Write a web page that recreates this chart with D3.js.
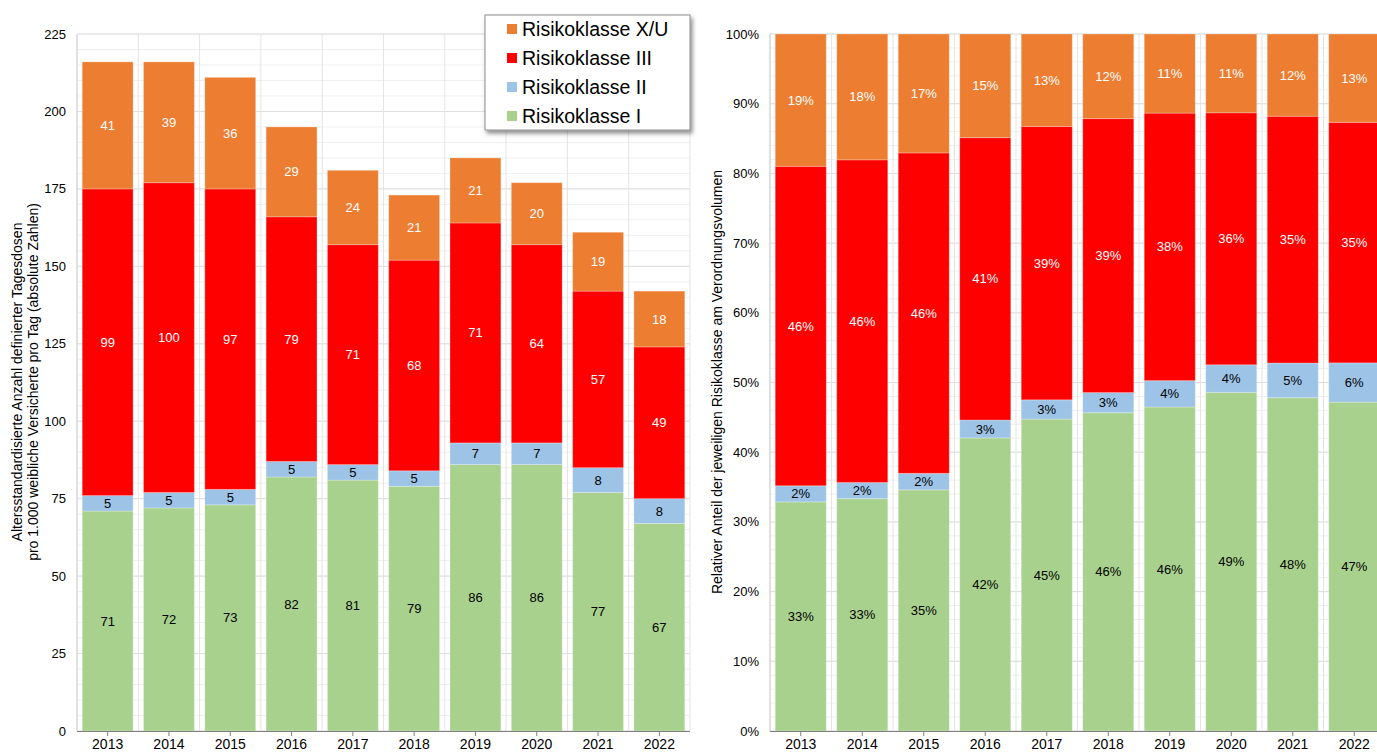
<!DOCTYPE html>
<html>
<head>
<meta charset="utf-8">
<script src="https://cdn.jsdelivr.net/npm/d3@7"></script>
<style>
  body { margin: 0; background: #fff; }
  svg { display: block; font-family: "Liberation Sans", Arial, sans-serif; }
</style>
</head>
<body>
<script>
// Data
var years = ["2013", "2014", "2015", "2016", "2017", "2018", "2019", "2020", "2021", "2022"];
var klasseI   = [71, 72, 73, 82, 81, 79, 86, 86, 77, 67];
var klasseII  = [5, 5, 5, 5, 5, 5, 7, 7, 8, 8];
var klasseIII = [99, 100, 97, 79, 71, 68, 71, 64, 57, 49];
var klasseXU  = [41, 39, 36, 29, 24, 21, 21, 20, 19, 18];

var seriesNames = ["Risikoklasse I", "Risikoklasse II", "Risikoklasse III", "Risikoklasse X/U"];
var seriesColors = ["#A9D18E", "#9DC3E6", "#FF0000", "#ED7D31"];
var labelColors = ["#000", "#000", "#fff", "#fff"];
var leftTicks = [0, 25, 50, 75, 100, 125, 150, 175, 200, 225];
var rightTicks = [0, 0.1, 0.2, 0.3, 0.4, 0.5, 0.6, 0.7, 0.8, 0.9, 1];

var W = 1377, H = 753;
var svg = d3.select("body").append("svg").attr("width", W).attr("height", H);

var defs = svg.append("defs");
var shadow = defs.append("filter").attr("id", "shadow")
    .attr("x", "-10%").attr("y", "-10%").attr("width", "130%").attr("height", "140%");
shadow.append("feDropShadow").attr("dx", 2).attr("dy", 3).attr("stdDeviation", 2)
    .attr("flood-color", "#000").attr("flood-opacity", 0.45);

// build rows
var rows = years.map(function(y, i) {
  return { year: y, v: [klasseI[i], klasseII[i], klasseIII[i], klasseXU[i]] };
});

function drawChart(opts) {
  var g = svg.append("g");
  var x = d3.scaleBand().domain(years).range([opts.x0, opts.x1]).paddingInner(0.17).paddingOuter(0.085);
  var y = d3.scaleLinear().domain(opts.domain).range([731, 34]);

  // minor grid
  g.append("g").selectAll("line").data(opts.minor).join("line")
      .attr("x1", opts.x0).attr("x2", opts.x1)
      .attr("y1", function(d) { return y(d); }).attr("y2", function(d) { return y(d); })
      .attr("stroke", "#f0f0f0");
  // major grid
  g.append("g").selectAll("line").data(opts.ticks).join("line")
      .attr("x1", opts.x0).attr("x2", opts.x1)
      .attr("y1", function(d) { return y(d); }).attr("y2", function(d) { return y(d); })
      .attr("stroke", "#dedede");
  // vertical grid at band boundaries
  var step = x.step();
  g.append("g").selectAll("line").data(d3.range(years.length + 1)).join("line")
      .attr("x1", function(i) { return opts.x0 + i * step; })
      .attr("x2", function(i) { return opts.x0 + i * step; })
      .attr("y1", y(opts.domain[1])).attr("y2", y(0))
      .attr("stroke", "#e4e4e4");

  // stacked bars
  var stackData = rows.map(function(r) {
    var total = d3.sum(r.v);
    var o = { year: r.year };
    r.v.forEach(function(v, k) { o["s" + k] = opts.relative ? v / total : v; });
    return o;
  });
  var stack = d3.stack().keys(["s0", "s1", "s2", "s3"])(stackData);

  stack.forEach(function(layer, k) {
    var lg = g.append("g");
    lg.selectAll("rect").data(layer).join("rect")
        .attr("x", function(d) { return x(d.data.year); })
        .attr("width", x.bandwidth())
        .attr("y", function(d) { return y(d[1]); })
        .attr("height", function(d) { return y(d[0]) - y(d[1]); })
        .attr("fill", seriesColors[k])
        .attr("stroke", "rgba(255,255,255,0.25)")
        .attr("stroke-width", 1);
    lg.selectAll("text").data(layer).join("text")
        .attr("x", function(d) { return x(d.data.year) + x.bandwidth() / 2; })
        .attr("y", function(d) { return (y(d[0]) + y(d[1])) / 2; })
        .attr("dy", "0.35em")
        .attr("text-anchor", "middle")
        .attr("font-size", 13)
        .attr("fill", labelColors[k])
        .text(function(d) {
          var v = d[1] - d[0];
          return opts.relative ? Math.round(v * 100) + "%" : Math.round(v);
        });
  });

  // y axis labels
  g.append("g").selectAll("text").data(opts.ticks).join("text")
      .attr("x", opts.x0 - 11).attr("y", function(d) { return y(d); })
      .attr("dy", "0.35em").attr("text-anchor", "end")
      .attr("font-size", 13).attr("fill", "#000")
      .text(opts.fmt);
  g.append("line").attr("x1", opts.x0).attr("x2", opts.x0)
      .attr("y1", y(opts.domain[1])).attr("y2", y(0)).attr("stroke", "#d0d0d0");

  // x axis
  var xa = g.append("g").attr("transform", "translate(0," + y(0) + ")")
      .call(d3.axisBottom(x).tickSize(5).tickPadding(3));
  xa.select(".domain").attr("stroke", "#7f7f7f").attr("stroke-width", 1.2)
      .attr("d", "M" + opts.x0 + ",0.5H" + opts.x1);
  xa.selectAll(".tick line").attr("stroke", "#7f7f7f");
  xa.selectAll(".tick text").attr("font-size", 14).attr("fill", "#000")
      .attr("font-family", "Liberation Sans, Arial, sans-serif");

  // y title
  opts.title.forEach(function(t, i) {
    g.append("text")
        .attr("transform", "translate(" + (opts.titleX + i * 16) + ",382) rotate(-90)")
        .attr("text-anchor", "middle").attr("dy", "0.35em")
        .attr("font-size", 14).attr("fill", "#000")
        .text(t);
  });
}

drawChart({
  x0: 77, x1: 690, domain: [0, 225], ticks: leftTicks,
  minor: d3.range(0, 226, 5), relative: false,
  fmt: function(d) { return d; },
  titleX: 17,
  title: ["Altersstandardisierte Anzahl definierter Tagesdosen",
          "pro 1.000 weibliche Versicherte pro Tag (absolute Zahlen)"]
});

drawChart({
  x0: 770, x1: 1385, domain: [0, 1], ticks: rightTicks,
  minor: d3.range(0, 51).map(function(i) { return i / 50; }), relative: true,
  fmt: function(d) { return Math.round(d * 100) + "%"; },
  titleX: 717,
  title: ["Relativer Anteil der jeweiligen Risikoklasse am Verordnungsvolumen"]
});

// Legend
var legend = svg.append("g").attr("transform", "translate(485,15)");
legend.append("rect").attr("width", 205).attr("height", 115)
    .attr("fill", "#fff").attr("stroke", "#8c8c8c").attr("filter", "url(#shadow)");
var order = [3, 2, 1, 0];
order.forEach(function(k, i) {
  var row = legend.append("g").attr("transform", "translate(0," + (14 + i * 29) + ")");
  row.append("rect").attr("x", 22).attr("y", -5).attr("width", 10).attr("height", 10)
      .attr("fill", seriesColors[k]);
  row.append("text").attr("x", 37).attr("dy", "0.35em")
      .attr("font-size", 19.5).attr("fill", "#000").text(seriesNames[k]);
});
</script>
</body>
</html>
